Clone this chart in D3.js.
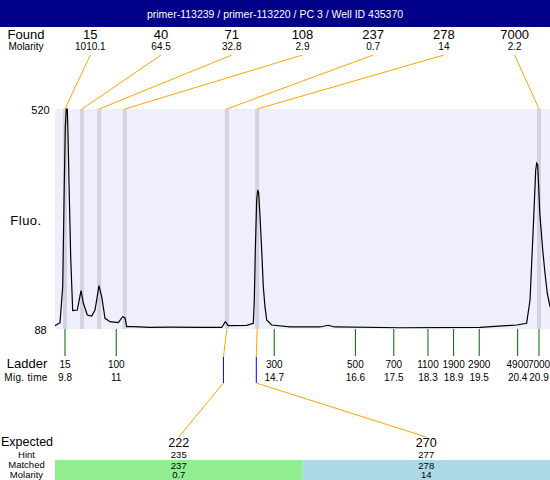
<!DOCTYPE html>
<html><head><meta charset="utf-8">
<script src="https://cdn.jsdelivr.net/npm/d3@7"></script>
<style>
html,body{margin:0;padding:0;background:#fff;}
svg{display:block;font-family:"Liberation Sans",Arial,sans-serif;}
</style></head>
<body>
<script>
// ---- data ----
const title = "primer-113239 / primer-113220 / PC 3 / Well ID 435370";
const foundSizes = ["15","40","71","108","237","278","7000"];
const foundMolarity = ["1010.1","64.5","32.8","2.9","0.7","14","2.2"];
const foundTimes = [9.8, 10.2, 10.6, 11.2, 13.59, 14.3, 20.9];
const ladderSizes = ["15","100","300","500","700","1100","1900","2900","4900","7000"];
const ladderTimes = [9.8, 11, 14.7, 16.6, 17.5, 18.3, 18.9, 19.5, 20.4, 20.9];
const expectedSizes = ["222","270"];
const expectedTimes = [13.51, 14.28];
const expectedHint = ["235","277"];
const expectedMatched = ["237","278"];
const expectedMolarity = ["0.7","14"];
const expectedFoundIndex = [4, 5];
const expectedColors = ["#90ee90","#add8e6"];
const yTicks = [88, 520];
const traceTime = [9.566,9.683,9.746,9.784,9.807,9.830,9.854,9.870,9.894,9.933,9.980,10.088,10.175,10.229,10.322,10.425,10.503,10.596,10.659,10.737,10.854,11.048,11.151,11.205,11.245,11.392,11.79,12.26,12.96,13.47,13.554,13.624,14.055,14.21,14.233,14.257,14.289,14.313,14.336,14.367,14.406,14.444,14.483,14.523,14.64,15.07,15.77,15.96,16.12,17.645,19.52,20.378,20.61,20.69,20.767,20.823,20.846,20.87,20.92,20.987,21.04,21.094,21.158];
const traceFluo = [94.5,100.4,170.5,374.7,484.7,520,520,472.9,374.7,229.4,124,125.3,163.2,139,115.5,113.5,125.3,173,151.4,109,102.3,100.4,112.2,109.6,92.5,92.5,91,91.5,91,91,102.3,94.5,95.3,99.2,145,243,341.3,361,355,308.5,243,171,131.8,105.7,95.9,92,92,95.3,92,90.5,91,95.9,99.2,145,289,400,413.4,410,314,243,198,158,131.8];

// ---- layout ----
const W = 550, H = 480;
const plot = {left:55, right:550, top:109, bottom:329};
const svg = d3.select("body").append("svg").attr("width",W).attr("height",H);

const x = d3.scaleLinear().domain([9.8, 20.9]).range([65, 539]);
const y = d3.scaleLinear().domain([88, 520]).range([plot.bottom, plot.top]);
const foundCol = d3.scaleBand().domain(d3.range(foundSizes.length)).range([plot.left, plot.right]);
const expCol = d3.scaleBand().domain(d3.range(expectedSizes.length)).range([plot.left, plot.right]);

// title bar
svg.append("rect").attr("x",0).attr("y",0).attr("width",W).attr("height",27).attr("fill","#000088");
svg.append("text").attr("x",W/2).attr("y",18).attr("text-anchor","middle").attr("fill","#fff")
  .attr("font-size","10.5px").text(title);

// found header
svg.append("text").attr("x",26).attr("y",39).attr("text-anchor","middle").attr("font-size","13px").text("Found");
svg.append("text").attr("x",26).attr("y",49.5).attr("text-anchor","middle").attr("font-size","10px").text("Molarity");
const fc = (i)=>foundCol(i)+foundCol.bandwidth()/2;
svg.selectAll(".fsize").data(foundSizes).join("text").attr("x",(d,i)=>fc(i)).attr("y",39)
  .attr("text-anchor","middle").attr("font-size","13px").text(d=>d);
svg.selectAll(".fmol").data(foundMolarity).join("text").attr("x",(d,i)=>fc(i)).attr("y",49.5)
  .attr("text-anchor","middle").attr("font-size","10px").text(d=>d);

// plot bg
svg.append("rect").attr("x",plot.left).attr("y",plot.top).attr("width",plot.right-plot.left)
  .attr("height",plot.bottom-plot.top).attr("fill","#eeeefc");
// found bands
svg.selectAll(".band").data(foundTimes).join("rect").attr("x",d=>x(d)-2).attr("y",plot.top)
  .attr("width",4).attr("height",plot.bottom-plot.top).attr("fill","#d2d2e0");
// connectors found labels -> bands
svg.selectAll(".fline").data(foundTimes).join("line")
  .attr("x1",(d,i)=>fc(i)).attr("y1",55).attr("x2",d=>x(d)).attr("y2",plot.top)
  .attr("stroke","#ffa500").attr("stroke-width",1);

// y labels
svg.selectAll(".ytick").data(yTicks).join("text").attr("x",40.5).attr("y",d=>y(d)+4.5)
  .attr("text-anchor","middle").attr("font-size","11px").text(d=>d);
svg.append("text").attr("x",26).attr("y",225).attr("text-anchor","middle").attr("font-size","13px")
  .attr("letter-spacing","0.5px").text("Fluo.");

// trace
svg.append("clipPath").attr("id","pc").append("rect").attr("x",plot.left).attr("y",plot.top-1)
  .attr("width",plot.right-plot.left).attr("height",plot.bottom-plot.top+1);
const line = d3.line().x((d,i)=>x(traceTime[i])).y(d=>y(d));
svg.append("path").datum(traceFluo).attr("d",line).attr("fill","none").attr("stroke","#000")
  .attr("stroke-width",1.2).attr("clip-path","url(#pc)");

// ladder
svg.selectAll(".ltick").data(ladderTimes).join("line").attr("x1",d=>x(d)).attr("x2",d=>x(d))
  .attr("y1",plot.bottom).attr("y2",356).attr("stroke","#006400").attr("stroke-width",1);
svg.append("text").attr("x",27).attr("y",367.5).attr("text-anchor","middle").attr("font-size","13px").text("Ladder");
svg.append("text").attr("x",26).attr("y",380.5).attr("text-anchor","middle").attr("font-size","10px")
  .attr("letter-spacing","0.3px").text("Mig. time");
svg.selectAll(".lsize").data(ladderSizes).join("text").attr("x",(d,i)=>x(ladderTimes[i])).attr("y",367.5)
  .attr("text-anchor","middle").attr("font-size","10px").text(d=>d);
svg.selectAll(".ltime").data(ladderTimes).join("text").attr("x",d=>x(d)).attr("y",380.5)
  .attr("text-anchor","middle").attr("font-size","10px").text(d=>d);

// expected connectors
const ec = (i)=>expCol(i)+expCol.bandwidth()/2;
expectedTimes.forEach((t,i)=>{
  const fx = x(foundTimes[expectedFoundIndex[i]]);
  const ex = x(t);
  svg.append("polyline").attr("points",`${fx},${plot.bottom} ${ex},357`).attr("fill","none").attr("stroke","#ffa500");
  svg.append("line").attr("x1",ex).attr("x2",ex).attr("y1",357).attr("y2",383).attr("stroke","#0000ff");
  svg.append("line").attr("x1",ex).attr("y1",383).attr("x2",ec(i)).attr("y2",437).attr("stroke","#ffa500");
});

// expected table
svg.selectAll(".ebox").data(expectedColors).join("rect").attr("x",(d,i)=>expCol(i)).attr("y",460)
  .attr("width",expCol.bandwidth()).attr("height",20).attr("fill",d=>d);
svg.append("text").attr("x",27).attr("y",446).attr("text-anchor","middle").attr("font-size","12.5px").text("Expected");
[["Hint",458],["Matched",468.3],["Molarity",478]].forEach(([t,yy])=>{
  svg.append("text").attr("x",26.5).attr("y",yy).attr("text-anchor","middle").attr("font-size","9.5px").text(t);
});
svg.selectAll(".esize").data(expectedSizes).join("text").attr("x",(d,i)=>ec(i)).attr("y",446.5)
  .attr("text-anchor","middle").attr("font-size","12.5px").text(d=>d);
svg.selectAll(".ehint").data(expectedHint).join("text").attr("x",(d,i)=>ec(i)).attr("y",458.3)
  .attr("text-anchor","middle").attr("font-size","9.5px").text(d=>d);
svg.selectAll(".ematch").data(expectedMatched).join("text").attr("x",(d,i)=>ec(i)).attr("y",468.5)
  .attr("text-anchor","middle").attr("font-size","9.5px").text(d=>d);
svg.selectAll(".emol").data(expectedMolarity).join("text").attr("x",(d,i)=>ec(i)).attr("y",478.3)
  .attr("text-anchor","middle").attr("font-size","9.5px").text(d=>d);
</script>
</body></html>
